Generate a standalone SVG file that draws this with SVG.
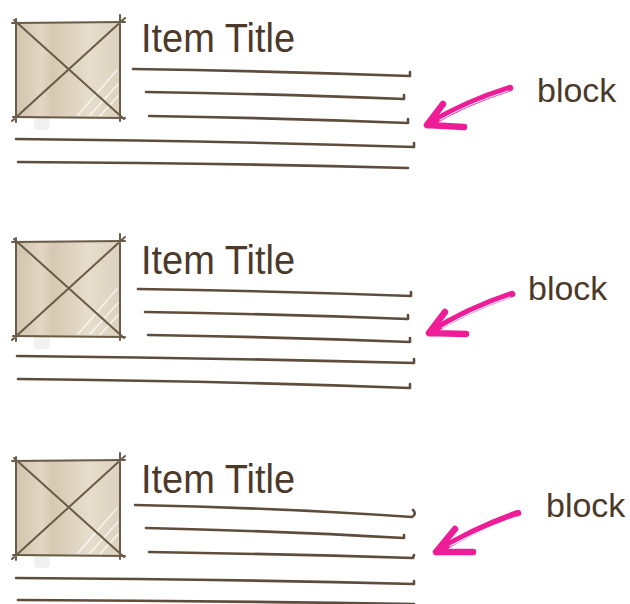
<svg xmlns="http://www.w3.org/2000/svg" width="630" height="604" viewBox="0 0 630 604">
<style>
.ln{fill:none;stroke:#5e4d3c;stroke-width:2.6;stroke-linecap:round;stroke-linejoin:round}
.bx{fill:none;stroke:#6a5a48;stroke-width:2;stroke-linecap:round}
.hl{fill:none;stroke:#ffffff;stroke-width:1.4;opacity:0.75;stroke-linecap:round}
.ttl{font-family:"Liberation Sans","DejaVu Sans",sans-serif;font-size:40px;fill:#4b3a2a}
.lbl{font-family:"Liberation Sans","DejaVu Sans",sans-serif;font-size:34px;fill:#4b3a2a}
.ar{fill:none;stroke:#ee1c96;stroke-width:6.5;stroke-linecap:round;stroke-linejoin:round}
.arh{fill:none;stroke:#ffffff;stroke-width:1.3;stroke-linecap:round;opacity:0.9}
</style>
<defs>
<linearGradient id="bg" x1="0" y1="0" x2="1" y2="0">
<stop offset="0" stop-color="#d2c4ab"/>
<stop offset="0.25" stop-color="#e2d7c4"/>
<stop offset="0.35" stop-color="#d6c9b2"/>
<stop offset="0.7" stop-color="#e6ddcc"/>
<stop offset="1" stop-color="#ddd2bf"/>
</linearGradient>
<g id="img">
<rect x="34" y="117" width="16" height="13" rx="4" fill="#f1f1f1"/>
<rect x="16" y="23" width="104" height="94" fill="url(#bg)"/>
<path class="hl" d="M78 115 L117 70 M90 115 L118 84 M100 116 L118 96"/>
<path class="bx" d="M12 23 L125 22 M13 117 L125 118 M16 19 L16 122 M120 15 L120 121 M14 20 L124 119 M12 121 L125 18"/>
</g>
</defs>

<g id="block1">
<use href="#img"/>
<text class="ttl" x="141" y="52" textLength="154" lengthAdjust="spacingAndGlyphs">Item Title</text>
<path class="ln" d="M133 69 Q270 71 410 76 L410 72"/>
<path class="ln" d="M146 92 Q280 94 404 99 L404 95"/>
<path class="ln" d="M149 116 Q280 118 408 123 L408 119"/>
<path class="ln" d="M16 139 Q220 141 414 147 L414 143"/>
<path class="ln" d="M18 162 Q220 163 408 168"/>
</g>

<g id="block2">
<use href="#img" transform="translate(0,219)"/>
<text class="ttl" x="141" y="274" textLength="154" lengthAdjust="spacingAndGlyphs">Item Title</text>
<path class="ln" d="M138 289 Q275 291 411 296 L411 292"/>
<path class="ln" d="M145 312 Q280 314 408 319 L408 315"/>
<path class="ln" d="M148 335 Q280 337 410 342 L410 338"/>
<path class="ln" d="M17 356 Q220 358 414 363 L414 359"/>
<path class="ln" d="M18 379 Q220 381 410 388 L410 384"/>
</g>

<g id="block3">
<use href="#img" transform="translate(0,438)"/>
<text class="ttl" x="141" y="493" textLength="154" lengthAdjust="spacingAndGlyphs">Item Title</text>
<path class="ln" d="M135 505 Q280 508 412 517 Q417 514 413 510"/>
<path class="ln" d="M146 528 Q280 531 404 538 L404 535"/>
<path class="ln" d="M149 552 Q280 554 413 558 L414 555"/>
<path class="ln" d="M16 578 Q220 579 414 584 L414 581"/>
<path class="ln" d="M18 600 Q220 601 414 604"/>
</g>

<g id="labels">
<text class="lbl" x="537" y="102">block</text>
<text class="lbl" x="528" y="300">block</text>
<text class="lbl" x="546" y="517">block</text>
</g>

<g id="connectors">
<path class="ar" d="M510 88 Q465 102 427 125 M443 104 L427 125 L464 127"/>
<path class="arh" d="M508 91 Q470 103 440 120"/>
<path class="ar" d="M512 294 Q467 309 429 333 M445 312 L429 333 L466 334"/>
<path class="arh" d="M510 297 Q472 310 442 328"/>
<path class="ar" d="M518 513 Q475 528 436 552 M455 529 L436 552 L473 552"/>
<path class="arh" d="M516 517 Q480 530 450 546"/>
</g>
</svg>
